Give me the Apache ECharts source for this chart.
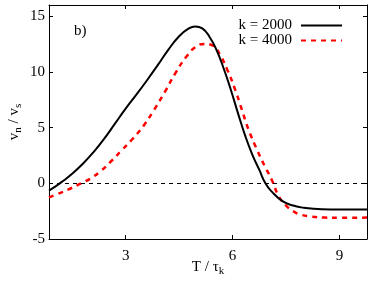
<!DOCTYPE html>
<html>
<head>
<meta charset="utf-8">
<script src="https://cdn.jsdelivr.net/npm/echarts@6/dist/echarts.min.js"></script>
<style>
html,body{margin:0;padding:0;background:#fff;}
#c{width:374px;height:281px;}
</style>
</head>
<body>
<div id="c"></div>
<script>
var xTicks = [3, 6, 9];
var yTicks = [-5, 0, 5, 10, 15];

var k2000X = [0.85, 1.0, 1.2, 1.5, 1.8, 2.1, 2.4, 2.7, 3.0, 3.3, 3.6, 3.9, 4.2, 4.5, 4.75, 4.95, 5.15, 5.35, 5.55, 5.75, 5.95, 6.15, 6.35, 6.55, 6.75, 6.92, 7.1, 7.4, 7.7, 8.0, 8.5, 9.0, 9.77];
var k2000Y = [-0.65, -0.35, 0.1, 0.85, 1.75, 2.8, 4.0, 5.35, 6.7, 7.95, 9.25, 10.6, 12.0, 13.2, 13.85, 14.08, 13.9, 13.15, 11.95, 10.3, 8.4, 6.3, 4.3, 2.6, 1.2, 0.0, -0.75, -1.6, -2.0, -2.2, -2.33, -2.35, -2.35];

var k4000X = [0.85, 1.1, 1.4, 1.75, 2.0, 2.3, 2.6, 2.9, 3.2, 3.5, 3.8, 4.1, 4.4, 4.7, 4.95, 5.2, 5.45, 5.65, 5.85, 6.05, 6.25, 6.45, 6.7, 6.9, 7.1, 7.3, 7.5, 7.7, 7.9, 8.2, 8.6, 9.0, 9.77];
var k4000Y = [-1.25, -0.95, -0.55, 0.0, 0.4, 1.1, 2.0, 3.0, 4.0, 5.15, 6.6, 8.2, 9.9, 11.35, 12.2, 12.5, 12.35, 11.5, 10.2, 8.6, 6.7, 4.8, 2.9, 1.55, 0.3, -1.2, -2.0, -2.5, -2.8, -2.98, -3.08, -3.1, -3.08];

var seriesNames = ['k = 2000', 'k = 4000'];

function pairs(xs, ys) { return xs.map(function (x, i) { return [x, ys[i]]; }); }

var FONT = 'Liberation Serif';
var FS = 15;
var chart = echarts.init(document.getElementById('c'), null, {renderer: 'canvas'});
var frameAxisLine = {show: true, onZero: false, lineStyle: {color: '#000', width: 1}};
var tickIn = {show: true, inside: true, length: 4, lineStyle: {color: '#000', width: 1}};
var nameRich = {
  a: {fontFamily: FONT, fontSize: FS, color: '#000'},
  s: {fontFamily: FONT, fontSize: 11, color: '#000', padding: [9, 0, 0, 0]}
};

chart.setOption({
  animation: false,
  backgroundColor: '#fff',
  textStyle: {fontFamily: FONT, color: '#000'},
  title: {
    text: 'b)', left: 69, top: 19,
    textStyle: {fontFamily: FONT, fontSize: FS, fontWeight: 'normal', color: '#000'}
  },
  legend: {
    data: seriesNames,
    right: 26, top: 13,
    orient: 'vertical',
    align: 'right',
    itemWidth: 41, itemHeight: 14, itemGap: 0,
    itemStyle: {opacity: 0},
    textStyle: {fontFamily: FONT, fontSize: FS, color: '#000', padding: [0, 4, 0, 0]}
  },
  grid: {left: 49, right: 7, top: 5, bottom: 42, containLabel: false, outerBoundsMode: 'none'},
  xAxis: [{
    type: 'value', min: 0.85, max: 9.77, position: 'bottom',
    name: '{a|T / τ}{s|k}', nameLocation: 'middle', nameGap: 18, nameMoveOverlap: false,
    nameTextStyle: {rich: nameRich},
    axisLine: frameAxisLine, axisTick: Object.assign({customValues: xTicks}, tickIn),
    axisLabel: {customValues: xTicks, fontFamily: FONT, fontSize: FS, color: '#000', margin: 10},
    splitLine: {show: false}
  }, {
    type: 'value', min: 0.85, max: 9.77, position: 'top',
    axisLine: frameAxisLine, axisTick: Object.assign({customValues: xTicks}, tickIn),
    axisLabel: {show: false}, splitLine: {show: false}
  }],
  yAxis: [{
    type: 'value', min: -5, max: 16, position: 'left',
    name: '{a|v}{s|n}{a| / v}{s|s}', nameLocation: 'middle', nameGap: 25, nameMoveOverlap: false,
    nameTextStyle: {rich: nameRich},
    axisLine: frameAxisLine, axisTick: Object.assign({customValues: yTicks}, tickIn),
    axisLabel: {customValues: yTicks, fontFamily: FONT, fontSize: FS, color: '#000', margin: 4},
    splitLine: {show: false}
  }, {
    type: 'value', min: -5, max: 16, position: 'right',
    axisLine: frameAxisLine, axisTick: Object.assign({customValues: yTicks}, tickIn),
    axisLabel: {show: false}, splitLine: {show: false}
  }],
  series: [{
    name: seriesNames[0], type: 'line', smooth: 0.5, showSymbol: false, symbol: 'none',
    data: pairs(k2000X, k2000Y),
    lineStyle: {color: '#000', width: 2},
    itemStyle: {color: '#000', opacity: 0},
    z: 3,
    markLine: {
      silent: true, symbol: 'none', label: {show: false},
      lineStyle: {color: '#000', width: 1, type: [4, 4]},
      data: [{yAxis: 0}]
    }
  }, {
    name: seriesNames[1], type: 'line', smooth: 0.5, showSymbol: false, symbol: 'none',
    data: pairs(k4000X, k4000Y),
    lineStyle: {color: '#ff0000', width: 2.5, type: [5, 5]},
    itemStyle: {color: '#ff0000', opacity: 0},
    z: 2
  }]
});
</script>
</body>
</html>
